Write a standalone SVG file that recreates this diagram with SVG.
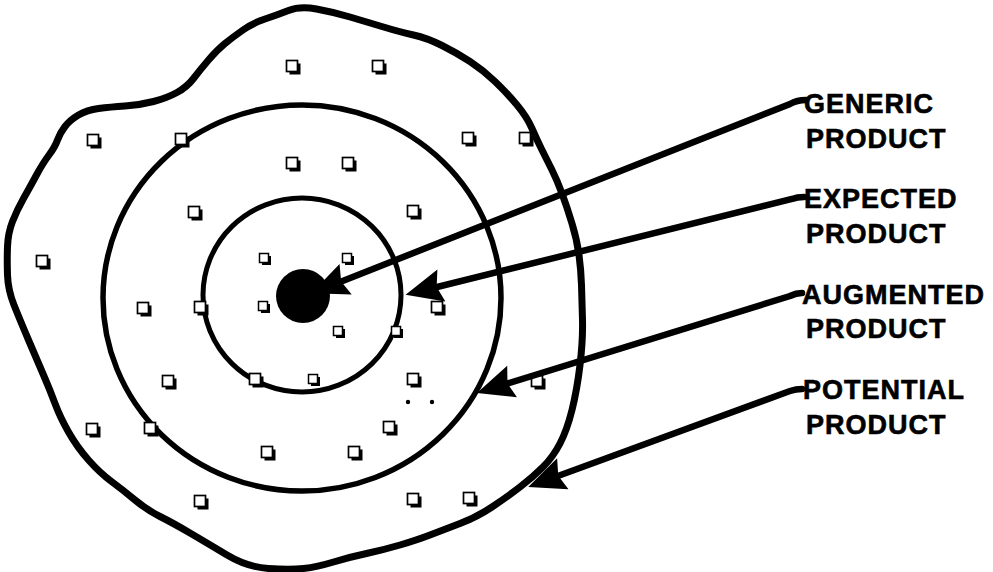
<svg xmlns="http://www.w3.org/2000/svg" xmlns:xlink="http://www.w3.org/1999/xlink" width="993" height="572" viewBox="0 0 993 572">
<style>
.ring{fill:none;stroke:#000;stroke-linejoin:round;stroke-linecap:round}
.lbl{font-family:"Liberation Sans",Arial,Helvetica,sans-serif;font-weight:bold;font-size:27px;letter-spacing:1px;fill:#000;stroke:#000;stroke-width:0.6}
.conn{fill:none;stroke:#000;stroke-width:6.5;stroke-linecap:round;marker-end:url(#ah)}
</style>
<defs>
<marker id="ah" viewBox="-40 -20 44 40" refX="-20" refY="0" markerWidth="44" markerHeight="40" markerUnits="userSpaceOnUse" orient="auto">
<path d="M0,0 L-37,-16 L-32,0 L-37,17 Z" fill="#000"/>
</marker>
<g id="sq"><rect x="-2.5" y="-2.5" width="11" height="11" fill="#000"/><rect x="-5.5" y="-5.5" width="11" height="11" fill="#fff" stroke="#000" stroke-width="1.7"/></g>
<g id="sqs"><rect x="-2" y="-2" width="9" height="9" fill="#000"/><rect x="-4.5" y="-4.5" width="9" height="9" fill="#fff" stroke="#000" stroke-width="1.5"/></g>
</defs>
<rect width="993" height="572" fill="#fff"/>
<g id="potential">
<path class="ring" stroke-width="7" d="M288.5,10.5 Q300,6 316.5,9 Q333,12 350,17 Q367,22 383.5,27 Q400,32 413.5,35 Q427,38 442,45.5 Q457,53 470,61.5 Q483,70 495,81.5 Q507,93 517,105 Q527,117 532,128.5 Q537,140 542,150 Q547,160 552,170 Q557,180 562,193.5 Q567,207 572,223.5 Q577,240 579,255 Q581,270 581.5,285 Q582,300 582.5,320 Q583,340 580,365 Q577,390 572,410 Q567,430 560,443.5 Q553,457 543,467 Q533,477 520,487 Q507,497 492,507 Q477,517 460,523.5 Q443,530 430,535 Q417,540 400,545 Q383,550 366.5,553.5 Q350,557 333.5,562 Q317,567 303.5,568.5 Q290,570 268.5,568.5 Q247,567 227,555 Q207,543 190,533 Q173,523 160,516.5 Q147,510 135,500 Q123,490 111.5,481.5 Q100,473 88.5,460 Q77,447 68.5,432 Q60,417 55,403.5 Q50,390 43.5,375 Q37,360 28.5,340 Q20,320 14,305 Q8,290 7.5,275 Q7,260 7.5,246.5 Q8,233 12.5,221.5 Q17,210 23.5,198.5 Q30,187 36.5,175 Q43,163 49,155 Q55,147 57.5,140 Q60,133 65,126.5 Q70,120 78.5,115 Q87,110 98.5,108.5 Q110,107 125,106 Q140,105 153.5,101.5 Q167,98 177,92.5 Q187,87 193.5,78.5 Q200,70 208.5,60 Q217,50 225,43.5 Q233,37 243,30 Q253,23 265,19 Q277,15 288.5,10.5 Z"/>
</g>
<g id="augmented">
<ellipse class="ring" stroke-width="5.5" cx="302" cy="298" rx="199" ry="193"/>
</g>
<g id="expected">
<ellipse class="ring" stroke-width="5" cx="302" cy="295" rx="99" ry="97"/>
</g>
<g id="generic">
<circle cx="303" cy="296" r="27" fill="#000"/>
</g>
<g id="features">
<use xlink:href="#sq" x="292" y="66"/>
<use xlink:href="#sq" x="378" y="66"/>
<use xlink:href="#sq" x="93" y="140"/>
<use xlink:href="#sq" x="181" y="139"/>
<use xlink:href="#sq" x="468" y="138"/>
<use xlink:href="#sq" x="525" y="138"/>
<use xlink:href="#sq" x="292" y="163"/>
<use xlink:href="#sq" x="348" y="163"/>
<use xlink:href="#sq" x="194" y="212"/>
<use xlink:href="#sq" x="413" y="211"/>
<use xlink:href="#sq" x="42" y="261"/>
<use xlink:href="#sq" x="143" y="308"/>
<use xlink:href="#sq" x="200" y="307"/>
<use xlink:href="#sq" x="437" y="307"/>
<use xlink:href="#sq" x="168" y="381"/>
<use xlink:href="#sq" x="255" y="379"/>
<use xlink:href="#sq" x="413" y="379"/>
<use xlink:href="#sq" x="537" y="381"/>
<use xlink:href="#sq" x="92" y="429"/>
<use xlink:href="#sq" x="150" y="428"/>
<use xlink:href="#sq" x="389" y="427"/>
<use xlink:href="#sq" x="267" y="452"/>
<use xlink:href="#sq" x="354" y="452"/>
<use xlink:href="#sq" x="200" y="501"/>
<use xlink:href="#sq" x="413" y="499"/>
<use xlink:href="#sq" x="469" y="498"/>
<use xlink:href="#sqs" x="264" y="258"/>
<use xlink:href="#sqs" x="347" y="258"/>
<use xlink:href="#sqs" x="263" y="306"/>
<use xlink:href="#sqs" x="338" y="331"/>
<use xlink:href="#sqs" x="396" y="331"/>
<use xlink:href="#sqs" x="313" y="379"/>
<circle cx="408" cy="402" r="2.2" fill="#000"/>
<circle cx="432" cy="402" r="2.2" fill="#000"/>
</g>
<g id="connectors">
<path class="conn" d="M806,100 Q797,100 790,104 L330,286"/>
<path class="conn" d="M804,197 Q797,197 792,199 L425,290"/>
<path class="conn" d="M802,293 Q796,293 790,296 L496,387"/>
<path class="conn" d="M802,389 Q796,389 790,391 L547,480"/>
</g>
<g id="label-generic"><text class="lbl" x="804" y="113">GENERIC</text><text class="lbl" x="806" y="148">PRODUCT</text></g>
<g id="label-expected"><text class="lbl" x="804" y="208">EXPECTED</text><text class="lbl" x="806" y="243">PRODUCT</text></g>
<g id="label-augmented"><text class="lbl" x="802" y="304">AUGMENTED</text><text class="lbl" x="806" y="338">PRODUCT</text></g>
<g id="label-potential"><text class="lbl" x="803" y="399">POTENTIAL</text><text class="lbl" x="806" y="434">PRODUCT</text></g>
</svg>
